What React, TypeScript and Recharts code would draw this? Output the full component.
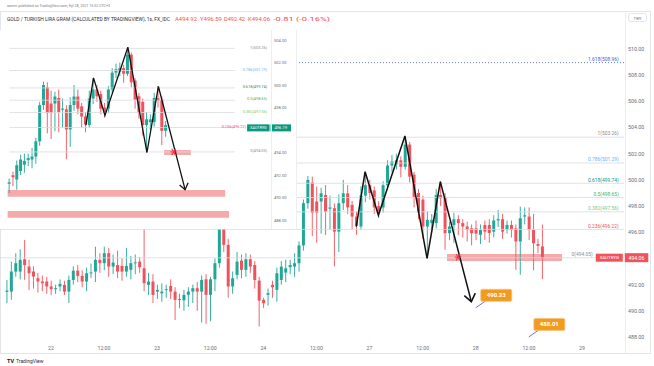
import React from 'react';
import { ComposedChart, Bar, Line, XAxis, YAxis, ReferenceLine, ReferenceArea, ReferenceDot } from 'recharts';

const GREEN = '#22a796';
const RED = '#f0525c';
const TEAL = '#089981';
const ZONE = '#f6a9ab';
const FIBLINE = '#d9dadf';

// hourly bars, index 0 = 21 Sep 14:00
const opens = [
  491.45, 491.47, 493.0, 493.0, 493.94, 493.38, 493.0, 492.49, 492.24, 492.24,
  491.86, 491.65, 491.86, 491.98, 491.47, 492.36, 493.07, 492.67, 492.24, 492.87,
  493.0, 493.89, 493.64, 494.4, 493.38, 493.5, 493.43, 493.0, 493.13, 493.64,
  493.76, 493.25, 491.98, 492.24, 491.47, 491.34, 491.6, 491.9, 491.47, 490.84,
  490.8, 491.22, 491.47, 491.73, 491.47, 492.41, 491.22, 492.41, 493.64, 497.0,
  495.04, 491.86, 492.74, 493.84, 493.13, 493.94, 493.5, 492.31, 490.84, 491.22,
  491.98, 491.6, 492.36, 492.92, 493.33, 493.38, 493.64, 495.0, 498.22, 499.8,
  498.35, 498.35, 498.85, 497.8, 497.84, 496.05, 498.22, 498.98, 498.1, 497.2,
  496.44, 498.8, 499.6, 499.2, 498.0, 497.9, 499.6, 501.1, 501.2, 501.5,
  501.0, 502.7, 500.4, 499.0, 498.5, 496.44, 496.7, 496.7, 498.85, 498.7,
  495.93, 496.56, 497.0, 496.7, 496.44, 496.3, 496.3, 495.8, 496.56, 496.56,
  496.05, 496.9, 497.0, 496.18, 496.56, 496.3, 495.3, 497.2, 497.2, 496.18,
  495.1, 494.92,
];
const highs = [
  492.36, 493.76, 494.4, 494.7, 495.42, 493.9, 493.4, 492.9, 492.7, 492.6,
  492.3, 492.0, 492.4, 492.3, 492.7, 493.4, 493.5, 493.1, 493.3, 493.6,
  494.9, 494.4, 494.9, 494.8, 494.3, 494.6, 494.0, 494.8, 494.2, 494.3,
  494.1, 497.2, 492.9, 492.8, 492.0, 492.1, 492.0, 492.4, 491.8, 491.3,
  491.6, 491.8, 492.0, 492.2, 492.7, 492.8, 492.6, 494.0, 497.6, 497.6,
  495.5, 493.0, 494.5, 494.3, 494.4, 494.3, 493.8, 492.6, 491.0, 491.7,
  492.3, 493.3, 493.8, 493.9, 493.9, 494.4, 495.3, 498.5, 500.3, 500.25,
  499.5, 499.4, 499.6, 498.8, 498.2, 498.9, 500.0, 499.6, 498.4, 497.6,
  499.5, 500.6, 500.0, 499.5, 498.4, 499.9, 501.5, 501.9, 502.0, 501.8,
  503.3, 502.9, 500.6, 499.3, 498.8, 497.6, 497.4, 499.3, 499.9, 499.0,
  496.8, 497.5, 497.3, 497.0, 496.8, 496.6, 496.9, 496.6, 496.9, 497.0,
  497.3, 497.7, 497.4, 496.9, 496.9, 496.6, 497.96, 497.9, 497.9, 497.4,
  495.5, 496.59,
];
const lows = [
  490.58, 490.84, 492.6, 492.4, 492.36, 491.6, 491.7, 491.4, 491.5, 491.3,
  491.2, 491.3, 491.5, 491.2, 490.6, 492.0, 492.2, 491.8, 491.5, 492.5,
  492.2, 492.9, 493.1, 492.6, 492.8, 492.5, 492.3, 492.6, 492.4, 492.8,
  492.9, 491.5, 491.2, 490.6, 490.9, 490.7, 491.0, 490.9, 489.3, 490.2,
  490.0, 490.3, 490.6, 490.0, 489.1, 489.0, 489.2, 491.5, 493.3, 494.5,
  491.0, 491.3, 492.4, 492.5, 492.6, 492.9, 491.7, 488.8, 490.2, 490.4,
  491.0, 490.7, 492.0, 492.2, 492.8, 492.6, 493.0, 494.6, 497.8, 495.7,
  495.2, 495.9, 495.8, 496.2, 493.4, 494.5, 497.7, 497.4, 496.2, 495.8,
  496.2, 498.3, 498.5, 497.4, 497.1, 497.5, 499.3, 500.6, 500.8, 500.2,
  500.8, 499.8, 497.9, 497.0, 495.5, 494.0, 496.0, 496.3, 498.0, 494.66,
  495.4, 495.2, 495.8, 495.6, 495.3, 495.0, 495.4, 495.1, 495.4, 495.2,
  495.6, 496.4, 495.5, 495.9, 495.6, 493.13, 492.75, 496.6, 495.4, 493.1,
  494.4, 492.42,
];
const closes = [
  491.55, 493.0, 493.64, 493.9, 493.5, 492.87, 492.62, 492.24, 492.11, 491.86,
  491.65, 491.73, 492.06, 491.47, 492.36, 493.07, 492.67, 492.24, 492.87, 492.93,
  493.89, 493.64, 494.4, 493.38, 493.69, 493.0, 493.0, 493.43, 493.64, 493.7,
  493.33, 492.11, 492.24, 491.22, 491.6, 491.47, 491.65, 491.47, 490.84, 490.9,
  491.22, 491.47, 491.73, 491.47, 492.36, 491.22, 492.41, 493.64, 497.2, 495.04,
  491.86, 492.49, 493.76, 493.13, 493.94, 493.38, 492.36, 490.78, 490.58, 491.35,
  491.8, 492.87, 493.38, 493.25, 493.5, 493.64, 495.0, 498.22, 500.0, 497.5,
  497.5, 498.98, 497.58, 497.9, 496.05, 498.22, 498.98, 497.9, 497.2, 496.5,
  498.8, 499.6, 499.0, 497.9, 497.5, 499.6, 501.1, 501.4, 501.5, 501.0,
  502.7, 500.25, 498.7, 497.5, 496.44, 496.95, 496.95, 498.85, 498.6, 495.93,
  496.44, 497.0, 496.7, 496.44, 496.18, 495.93, 495.9, 496.18, 496.05, 495.95,
  496.9, 497.0, 496.05, 496.56, 496.18, 495.3, 497.07, 497.3, 496.18, 495.16,
  494.96, 494.06,
];

// hand-drawn pattern (bar index, price)
const zigIndex = [79, 81, 84, 90, 95, 98, 105];
const zigPrice = [496.44, 500.63, 497.3, 503.36, 494.0, 499.87, 490.7];

const fibRatios = ['1.618', '1', '0.786', '0.618', '0.5', '0.382', '0.236', '0'];
const fibPrices = [508.96, 503.26, 501.29, 499.74, 498.65, 497.56, 496.22, 494.05];
const fibColors = ['#3f5fd8', '#8a8d96', '#64b5f6', '#12907e', '#4caf50', '#81c784', '#f0505a', '#8a8d96'];

const mainZoneFrom = [31, 0, 100];
const mainZoneTo = [139, 139, 125];
const mainZoneLow = [490.15, 487.92, 493.8];
const mainZoneHigh = [490.8, 488.6, 494.35];

const insetZoneFrom = [59, 59, 100];
const insetZoneTo = [115, 116, 106];
const insetZoneLow = [490.07, 488.2, 493.78];
const insetZoneHigh = [490.67, 488.8, 494.22];

const calloutIndex = [106, 118];
const calloutPrice = [490.23, 488.01];

const xTickIndex = [10, 22, 34, 46, 58, 70, 82, 94, 106, 118, 130];
const xTickLabels = ['22', '12:00', '23', '12:00', '24', '12:00', '27', '12:00', '28', '12:00', '29'];
const yTicksMain = [488, 490, 492, 496, 498, 500, 502, 504, 506, 508, 510];
const yTicksInset = [488, 490, 492, 494, 498, 500, 502, 504];

const lastPrice = 494.06;
const insetLastPrice = 496.19;
const symbolName = 'XAUTRYG';

type Row = { i: number; o: number | null; h: number | null; l: number | null; c: number | null; zig: number | null };

function buildRows(from: number, to: number, cFrom: number, cTo: number): Row[] {
  const rows: Row[] = [];
  for (let i = from; i <= to; i++) {
    const has = i >= cFrom && i <= cTo && i >= 0 && i < opens.length;
    const z = zigIndex.indexOf(i);
    rows.push({
      i,
      o: has ? opens[i] : null,
      h: has ? highs[i] : null,
      l: has ? lows[i] : null,
      c: has ? closes[i] : null,
      zig: z >= 0 ? zigPrice[z] : null,
    });
  }
  return rows;
}

const mainRows = buildRows(-1, 139, 0, 121);
const insetRows = buildRows(57, 127, 59, 100);

const candleRange = (d: Row) => (d.o == null ? null : [d.l, d.h]);

const Candle = (props: any) => {
  const { x, y, width, height, payload } = props;
  if (!payload || payload.o == null || x == null || y == null) return <g />;
  const top = Math.min(y, y + height);
  const h = Math.abs(height);
  const span = payload.h - payload.l;
  const ppu = span > 0 ? h / span : 0;
  const color = payload.c >= payload.o ? GREEN : RED;
  const cx = x + width / 2;
  const bTop = top + (payload.h - Math.max(payload.o, payload.c)) * ppu;
  const bBot = top + (payload.h - Math.min(payload.o, payload.c)) * ppu;
  return (
    <g>
      <line x1={cx} x2={cx} y1={top} y2={top + h} stroke={color} strokeWidth={0.9} />
      <rect x={x} y={bTop} width={width} height={Math.max(0.9, bBot - bTop)} fill={color} />
    </g>
  );
};

const MainXTick = (props: any) => {
  const { x, payload } = props;
  const k = xTickIndex.indexOf(payload.value);
  if (k < 0) return <g />;
  return (
    <text x={x} y={350} textAnchor="middle" fontSize={5.2} fill="#6a6d78">
      {xTickLabels[k]}
    </text>
  );
};

const MainYTick = (props: any) => {
  const { y, payload } = props;
  return (
    <text x={628} y={y + 1.9} fontSize={5.3} fill="#6a6d78">
      {Number(payload.value).toFixed(2)}
    </text>
  );
};

const InsetYTick = (props: any) => {
  const { y, payload } = props;
  return (
    <text x={274} y={y + 1.5} fontSize={4.1} fill="#6a6d78">
      {Number(payload.value).toFixed(2)}
    </text>
  );
};

const Star = (props: any) => {
  const { cx, cy } = props;
  const s = 3.2;
  return (
    <g stroke="#f23645" strokeWidth={1.1}>
      <line x1={cx - s} y1={cy} x2={cx + s} y2={cy} />
      <line x1={cx - s * 0.6} y1={cy - s} x2={cx + s * 0.6} y2={cy + s} />
      <line x1={cx + s * 0.6} y1={cy - s} x2={cx - s * 0.6} y2={cy + s} />
    </g>
  );
};

export default function App() {
  const lastFib = fibPrices.length - 1;
  return (
    <div
      style={{
        position: 'absolute',
        left: 0,
        top: 0,
        width: 654,
        height: 366,
        background: '#fff',
        fontFamily: 'Roboto, "Noto Sans", sans-serif',
        overflow: 'hidden',
      }}
    >
      {/* frame + header */}
      <svg width={654} height={366} style={{ position: 'absolute', left: 0, top: 0 }}>
        <rect x={0.5} y={11.5} width={650} height={342} fill="none" stroke="#e3e5ea" />
        <line x1={625.5} y1={11.5} x2={625.5} y2={353.5} stroke="#eceef2" />
        <text x={7} y={7} fontSize={4.3} fill="#7a7d86" textLength={103} lengthAdjust="spacingAndGlyphs">
          asrmn published on TradingView.com, Eyl 28, 2021 15:52 UTC+3
        </text>
        <text x={7} y={20.5} fontSize={4.7} fill="#2a2e39" textLength={163} lengthAdjust="spacingAndGlyphs">
          GOLD / TURKISH LIRA GRAM (CALCULATED BY TRADINGVIEW), 1s, FX_IDC
        </text>
        <text x={175} y={20.5} fontSize={4.7} fill="#ef5350" textLength={22} lengthAdjust="spacingAndGlyphs">A494.92</text>
        <text x={200} y={20.5} fontSize={4.7} fill="#ef5350" textLength={22} lengthAdjust="spacingAndGlyphs">Y496.59</text>
        <text x={224} y={20.5} fontSize={4.7} fill="#ef5350" textLength={21} lengthAdjust="spacingAndGlyphs">D492.42</text>
        <text x={248} y={20.5} fontSize={4.7} fill="#ef5350" textLength={22} lengthAdjust="spacingAndGlyphs">K494.06</text>
        <text x={273} y={20.5} fontSize={4.7} fill="#ef5350" textLength={57} lengthAdjust="spacingAndGlyphs">-0.81 (-0.16%)</text>
        <rect x={628.5} y={13.5} width={18} height={8} rx={2} fill="#fff" stroke="#e3e5ea" />
        <text x={637.5} y={19.5} fontSize={4.4} fill="#6a6d78" textAnchor="middle">TRY</text>
        <text x={7} y={363} fontSize={5.6} fontWeight="bold" fill="#131722">TV</text>
        <text x={16} y={363} fontSize={5} fill="#2a2e39">TradingView</text>
      </svg>

      {/* main chart */}
      <div style={{ position: 'absolute', left: 0, top: 0 }}>
        <ComposedChart width={654} height={366} data={mainRows} margin={{ top: 30, right: 0, bottom: 0, left: 0 }}>
          <XAxis dataKey="i" type="category" height={24} axisLine={false} tickLine={false} interval={0} tick={<MainXTick />} />
          <YAxis
            orientation="right"
            width={30}
            type="number"
            domain={[487.62, 511.45]}
            allowDataOverflow
            ticks={yTicksMain}
            interval={0}
            axisLine={false}
            tickLine={false}
            tick={<MainYTick />}
          />
          {mainZoneFrom.map((f, k) => (
            <ReferenceArea key={'mz' + k} x1={f} x2={mainZoneTo[k]} y1={mainZoneLow[k]} y2={mainZoneHigh[k]} fill={ZONE} fillOpacity={1} stroke="none" />
          ))}
          {fibPrices.map((p, k) => (
            <ReferenceLine
              key={'mf' + k}
              y={p}
              stroke={k === 0 ? fibColors[0] : FIBLINE}
              strokeWidth={0.8}
              strokeDasharray={k === 0 ? '1 2' : undefined}
            />
          ))}
          <Bar dataKey={candleRange} barSize={3} shape={<Candle />} isAnimationActive={false} />
          <Line dataKey="zig" stroke="#111" strokeWidth={1.5} dot={false} connectNulls isAnimationActive={false} type="linear" />
          <ReferenceDot
            x={zigIndex[zigIndex.length - 1]}
            y={zigPrice[zigPrice.length - 1]}
            shape={(p: any) => (
              <path d={`M${p.cx - 7},${p.cy - 6} L${p.cx},${p.cy} L${p.cx + 4},${p.cy - 8.5}`} stroke="#111" strokeWidth={1.5} fill="none" />
            )}
          />
          <ReferenceDot x={102} y={494.1} shape={(p: any) => <Star {...p} />} />
          {fibPrices.map((p, k) => (
            <ReferenceDot
              key={'ml' + k}
              x={139}
              y={p}
              shape={(s: any) => (
                <text x={k === lastFib ? s.cx - 29 : s.cx - 3} y={s.cy - 1.8} textAnchor="end" fontSize={4.9} fill={fibColors[k]}>
                  {`${fibRatios[k]}(${p.toFixed(2)})`}
                </text>
              )}
            />
          ))}
          {calloutIndex.map((ci, k) => (
            <ReferenceDot
              key={'co' + k}
              x={ci}
              y={calloutPrice[k]}
              shape={(s: any) => (
                <g>
                  <line x1={s.cx} y1={s.cy} x2={s.cx + 10} y2={s.cy - 7} stroke="#7a72c8" strokeWidth={1} />
                  <rect x={s.cx + 5} y={s.cy - 18.5} width={31} height={12} rx={1.5} fill="#f29c1f" stroke="#f6c27a" strokeWidth={0.8} />
                  <text x={s.cx + 20.5} y={s.cy - 10.5} textAnchor="middle" fontSize={6} fontWeight="bold" fill="#fff">
                    {calloutPrice[k].toFixed(2)}
                  </text>
                </g>
              )}
            />
          ))}
          <ReferenceDot
            x={139}
            y={lastPrice}
            shape={(s: any) => (
              <g>
                <rect x={s.cx - 26} y={s.cy - 4} width={27} height={8} fill={RED} />
                <text x={s.cx - 12.5} y={s.cy + 1.6} textAnchor="middle" fontSize={4.4} fill="#fff">{symbolName}</text>
                <rect x={s.cx + 3} y={s.cy - 4.5} width={23.5} height={9} fill={RED} />
                <text x={s.cx + 14.7} y={s.cy + 1.9} textAnchor="middle" fontSize={5.2} fill="#fff">{lastPrice.toFixed(2)}</text>
              </g>
            )}
          />
        </ComposedChart>
      </div>

      {/* inset: earlier snapshot of the same pattern */}
      <div style={{ position: 'absolute', left: 0, top: 30, width: 297, height: 199, background: '#fff' }}>
        <ComposedChart width={297} height={199} data={insetRows} margin={{ top: 0, right: 0, bottom: 1, left: 0 }}>
          <XAxis dataKey="i" type="category" hide />
          <YAxis
            orientation="right"
            width={26}
            type="number"
            domain={[487.29, 504.89]}
            allowDataOverflow
            ticks={yTicksInset}
            interval={0}
            axisLine={false}
            tickLine={false}
            tick={<InsetYTick />}
          />
          {insetZoneFrom.map((f, k) => (
            <ReferenceArea key={'iz' + k} x1={f} x2={insetZoneTo[k]} y1={insetZoneLow[k]} y2={insetZoneHigh[k]} fill={ZONE} fillOpacity={1} stroke="none" />
          ))}
          {fibPrices.slice(1).map((p, k) => (
            <ReferenceLine key={'if' + k} segment={[{ x: 59, y: p }, { x: 118, y: p }]} stroke={FIBLINE} strokeWidth={0.8} />
          ))}
          <Bar dataKey={candleRange} barSize={3} shape={<Candle />} isAnimationActive={false} />
          <Line dataKey="zig" stroke="#111" strokeWidth={1.3} dot={false} connectNulls isAnimationActive={false} type="linear" />
          <ReferenceDot
            x={zigIndex[zigIndex.length - 1]}
            y={zigPrice[zigPrice.length - 1]}
            shape={(p: any) => (
              <path d={`M${p.cx - 5.5},${p.cy - 4.7} L${p.cx},${p.cy} L${p.cx + 3},${p.cy - 6.8}`} stroke="#111" strokeWidth={1.3} fill="none" />
            )}
          />
          <ReferenceDot x={102} y={494.05} shape={(p: any) => <Star {...p} />} />
          {fibPrices.slice(1).map((p, k) => (
            <ReferenceDot
              key={'il' + k}
              x={127}
              y={p}
              shape={(s: any) => (
                <text x={k === 5 ? s.cx - 23 : s.cx - 2} y={s.cy + 0.2} textAnchor="end" fontSize={3.9} fill={fibColors[k + 1]}>
                  {`${fibRatios[k + 1]}(${p.toFixed(2)})`}
                </text>
              )}
            />
          ))}
          <ReferenceDot
            x={127}
            y={insetLastPrice}
            shape={(s: any) => (
              <g>
                <rect x={s.cx - 22} y={s.cy - 3.5} width={22.5} height={7} fill={TEAL} />
                <text x={s.cx - 10.7} y={s.cy + 1.4} textAnchor="middle" fontSize={3.8} fill="#fff">{symbolName}</text>
                <rect x={s.cx + 1.5} y={s.cy - 3.5} width={20.5} height={7} fill={TEAL} />
                <text x={s.cx + 11.7} y={s.cy + 1.4} textAnchor="middle" fontSize={4.1} fill="#fff">{insetLastPrice.toFixed(2)}</text>
              </g>
            )}
          />
        </ComposedChart>
        <svg width={297} height={199} style={{ position: 'absolute', left: 0, top: 0, pointerEvents: 'none' }}>
          <line x1={271.5} y1={0} x2={271.5} y2={199} stroke="#eceef2" />
          <line x1={296.5} y1={0} x2={296.5} y2={199} stroke="#eceef2" />
        </svg>
      </div>
    </div>
  );
}
